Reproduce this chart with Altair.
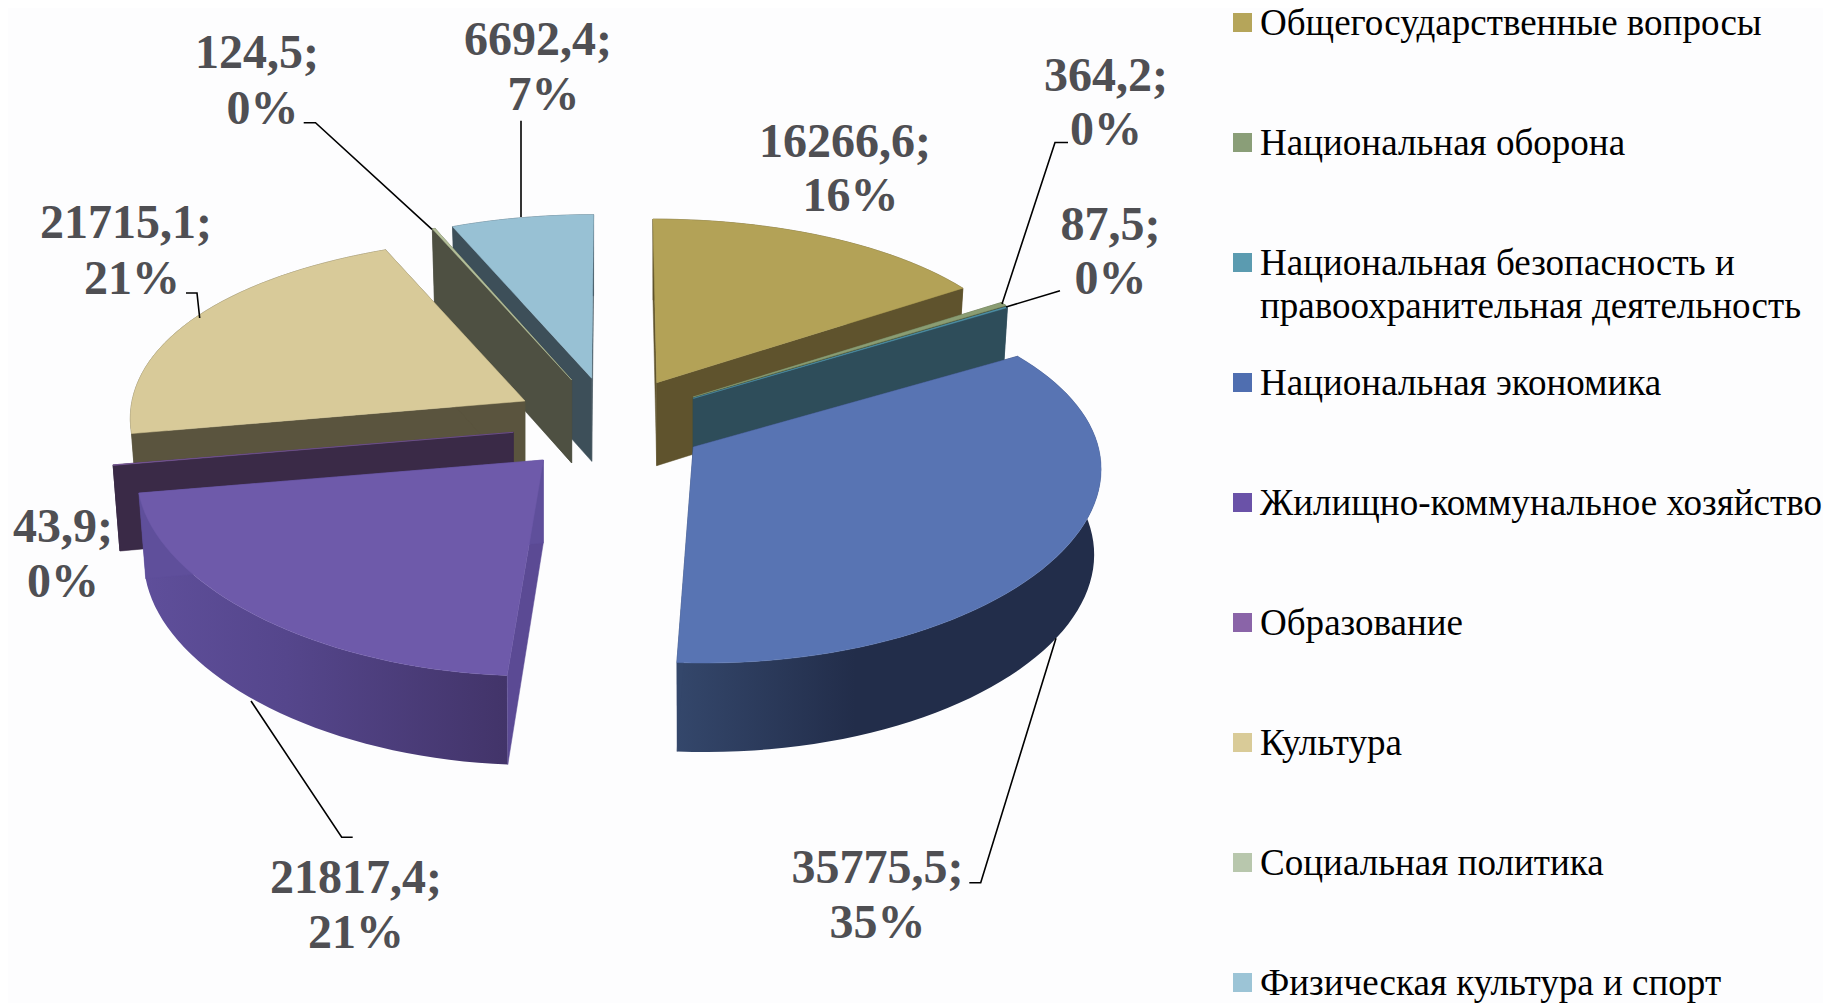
import math
import altair as alt
import pandas as pd

# --- data ---
names = ["Общегосударственные вопросы", "Национальная оборона",
         "Национальная безопасность и\nправоохранительная деятельность",
         "Национальная экономика", "Жилищно-коммунальное хозяйство", "Образование",
         "Культура", "Социальная политика", "Физическая культура и спорт"]
values = [16266.6, 364.2, 87.5, 35775.5, 21817.4, 43.9, 21715.1, 124.5, 6692.4]
value_text = ["16266,6;", "364,2;", "87,5;", "35775,5;", "21817,4;", "43,9;", "21715,1;", "124,5;", "6692,4;"]
pct_text = ["16%", "0%", "0%", "35%", "21%", "0%", "21%", "0%", "7%"]

# --- colours ---
legend_col = ["#b5a55a", "#8a9e78", "#5b9bb0", "#4f6eb0", "#6a52a8", "#8a64a8", "#d9cb98", "#b8c7ad", "#9cc4d6"]
top_col = ["#b3a257", "#8a9d73", "#4f93a8", "#5874b3", "#6e5aaa", "#7a5a9a", "#d8ca99", "#b5c09a", "#98c1d4"]
cut_col = ["#5f532d", "#4a5538", "#2e4d5a", "#2a3858", "#5b4a94", "#3a2a47", "#5a543e", "#4e5042", "#3d4f59"]
end_col = ["#5f532d", "#4a5538", "#2e4d5a", "#34476b", "#5f4f9b", "#3a2a47", "#5a543e", "#4e5042", "#3d4f59"]
wall_grad = {3: [("#34476b", 0), ("#222d4a", 0.42), ("#222d4a", 1)],
             4: [("#5f4f9b", 0), ("#55468c", 0.4), ("#423469", 1)]}

# --- layout of the exploded 3D pie (pixels) ---
apex_x = [656.7, 693, 693.3, 693.3, 543.3, 513.3, 525, 571.7, 591.7]
apex_y = [382.7, 397, 398.3, 447, 460, 432.3, 401, 380, 378.3]
rim_rx = [380, 380, 380, 405, 405, 402, 393, 393, 374]
rim_sx = [-4, 0, 0, -11, 8, 0, 13, 13, 2]
rim_kx = [0.06, 0.06, 0.06, 0.09, 0.06, 0.06, 0.06, 0.06, 0.06]
RY, K = 186.2, 0.138
draw_order = [8, 7, 6, 5, 4, 0, 1, 2, 3]

total = sum(values)
starts, cum = [], 0.0
for v in values:
    starts.append(cum / total * 360)
    cum += v


def rim(i, deg, lower=False):
    t = math.radians(deg)
    X, Z = math.sin(t), math.cos(t)
    dx = (rim_rx[i] * X + rim_sx[i] * Z) / (1 + rim_kx[i] * Z)
    dy = -RY * Z / (1 + K * Z)
    if lower:
        return apex_x[i] + dx * 0.983, apex_y[i] + dy + 85 - 4 * Z
    return apex_x[i] + dx, apex_y[i] + dy


def centre(i, lower=False):
    return apex_x[i], apex_y[i] + (83 if lower else 0)


W, H = 1815, 995
xs = alt.Scale(domain=[8, 8 + W], nice=False, zero=False)
ys = alt.Scale(domain=[8 + H, 8], nice=False, zero=False)
X = alt.X("px:Q", scale=xs, axis=None)
Y = alt.Y("py:Q", scale=ys, axis=None)


def poly(pts, fill, stroke=True):
    df = pd.DataFrame({"px": [p[0] for p in pts], "py": [p[1] for p in pts], "i": range(len(pts))})
    kw = dict(fill=fill, interpolate="linear-closed")
    if stroke:
        kw.update(stroke=fill, strokeWidth=0.5)
    else:
        kw.update(strokeOpacity=0)
    return alt.Chart(df).mark_line(**kw).encode(x=X, y=Y, order="i:Q")


layers = []
for i in draw_order:
    a, b = starts[i], starts[i] + values[i] / total * 360
    n = max(3, int((b - a) / 2))
    angs = [a + (b - a) * j / n for j in range(n + 1)]
    wall = [rim(i, d) for d in angs] + [rim(i, d, True) for d in reversed(angs)]
    if i in wall_grad:
        fill = alt.LinearGradient(gradient="linear", x1=0, x2=1, y1=0, y2=0,
                                  stops=[alt.GradientStop(color=c, offset=o) for c, o in wall_grad[i]])
        layers.append(poly(wall, fill, stroke=False))
    else:
        layers.append(poly(wall, cut_col[i]))
    for d, col in ((a, cut_col[i]), (b, end_col[i])):
        face = [centre(i), rim(i, d), rim(i, d, True), centre(i, True)]
        layers.append(poly(face, col))
    layers.append(poly([centre(i)] + [rim(i, d) for d in angs], top_col[i]))

# --- leader lines (pixels) ---
leaders = [
    [(969.3, 882.7), (980.7, 882.7), (1056, 638.3)],
    [(352.7, 837.3), (341.7, 837.3), (251, 701)],
    [(303.7, 122.7), (315.5, 122.7), (432, 229.3)],
    [(521, 120.7), (521, 217)],
    [(186, 293), (197, 293), (199.7, 318)],
    [(1068, 142.5), (1055, 142.5), (1002, 304)],
    [(1060, 290.7), (1006, 307)],
]
for lead in leaders:
    df = pd.DataFrame({"px": [p[0] for p in lead], "py": [p[1] for p in lead], "i": range(len(lead))})
    layers.append(alt.Chart(df).mark_line(color="black", strokeWidth=1.6).encode(x=X, y=Y, order="i:Q"))

# --- data labels ---
lab_x = [845, 1106, 1110.5, 877.5, 356, 63, 126, 257, 538]
lab_y = [157, 91, 239.5, 882.7, 893.3, 541.5, 238, 68.3, 55]
pct_gap = [54, 53.5, 54, 55.5, 55, 55.5, 55.5, 55.5, 55]
pct_dx = [5.5, 0, 0, 0, 0, 0, 6, 5.5, 5.5]
rows = []
for i in range(9):
    rows.append({"px": lab_x[i], "py": lab_y[i], "t": value_text[i]})
    rows.append({"px": lab_x[i] + pct_dx[i], "py": lab_y[i] + pct_gap[i], "t": pct_text[i]})
layers.append(alt.Chart(pd.DataFrame(rows)).mark_text(
    font="Liberation Serif", fontWeight="bold", fontSize=48, color="#4f4f53",
    align="center", baseline="alphabetic").encode(x=X, y=Y, text="t:N"))

# --- legend ---
key_x, key_w, key_h, text_x = 1233, 19, 19, 1260
rows, keys = [], []
for i, n in enumerate(names):
    top = 13 + 120 * i
    keys.append({"px": key_x, "px2": key_x + key_w, "py": top, "py2": top + key_h, "c": legend_col[i], "k": i})
    for j, line in enumerate(n.split("\n")):
        rows.append({"px": text_x, "py": 35 + 120 * i + 42.5 * j, "t": line})
layers.append(alt.Chart(pd.DataFrame(keys)).mark_rect().encode(
    x=X, x2="px2:Q", y=Y, y2="py2:Q",
    color=alt.Color("c:N", scale=None)))
layers.append(alt.Chart(pd.DataFrame(rows)).mark_text(
    font="Liberation Serif", fontSize=37.05, color="black",
    align="left", baseline="alphabetic").encode(x=X, y=Y, text="t:N"))

chart = alt.layer(*layers).properties(
    width=W, height=H, background="#fdfdfe", padding=0,
    autosize=alt.AutoSizeParams(type="none")
).configure_view(stroke=None)
chart.save("out.html", embed_options={"renderer": "svg", "actions": False})
